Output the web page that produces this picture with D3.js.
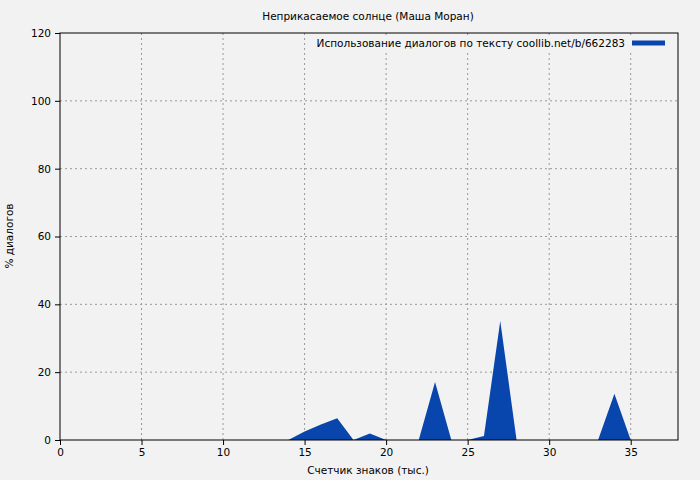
<!DOCTYPE html>
<html>
<head>
<meta charset="utf-8">
<script src="https://cdn.jsdelivr.net/npm/d3@7"></script>
<style>
  body { margin: 0; background: #f2f2f2; }
  text { font-family: "DejaVu Sans", sans-serif; font-size: 10.5px; fill: #000; }
  .grid line { stroke: #999; stroke-dasharray: 2,3; stroke-width: 1; }
</style>
</head>
<body>
<div id="chart"></div>
<script>
// data
var title = 'Неприкасаемое солнце (Маша Моран)';
var seriesName = 'Использование диалогов по тексту coollib.net/b/662283';
var xLabel = 'Счетчик знаков (тыс.)';
var yLabel = '% диалогов';
var xValues = [0, 1, 2, 3, 4, 5, 6, 7, 8, 9, 10, 11, 12, 13, 14, 15, 16, 17, 18, 19, 20, 21, 22, 23, 24, 25, 26, 27, 28, 29, 30, 31, 32, 33, 34, 35];
var dialogPct = [0, 0, 0, 0, 0, 0, 0, 0, 0, 0, 0, 0, 0, 0, 0, 2.5, 4.6, 6.4, 0, 1.9, 0, 0, 0, 17.1, 0, 0, 1.2, 35.1, 0, 0, 0, 0, 0, 0, 13.6, 0];
var xTicks = [0, 5, 10, 15, 20, 25, 30, 35];
var yTicks = [0, 20, 40, 60, 80, 100, 120];

var width = 700, height = 480;
var margin = { top: 33, right: 22, bottom: 40, left: 60 };

var svg = d3.select('#chart')
    .append('svg')
    .attr('width', width)
    .attr('height', height);

svg.append('rect')
    .attr('width', width)
    .attr('height', height)
    .style('fill', '#f2f2f2');

var x = d3.scaleLinear().domain([0, 37.9]).range([margin.left, width - margin.right]);
var y = d3.scaleLinear().domain([0, 120]).range([height - margin.bottom, margin.top]);

// grid
var grid = svg.append('g').attr('class', 'grid');
grid.selectAll('.gx')
    .data(xTicks.slice(1))
    .enter().append('line')
    .attr('x1', function(d) { return x(d); })
    .attr('x2', function(d) { return x(d); })
    .attr('y1', y(0))
    .attr('y2', y(120));
grid.selectAll('.gy')
    .data(yTicks.slice(1, -1))
    .enter().append('line')
    .attr('x1', x.range()[0])
    .attr('x2', x.range()[1])
    .attr('y1', function(d) { return y(d); })
    .attr('y2', function(d) { return y(d); });

// area
var data = xValues.map(function(d, i) { return { x: d, v: dialogPct[i] }; });
var area = d3.area()
    .x(function(d) { return x(d.x); })
    .y0(y(0))
    .y1(function(d) { return y(d.v); });

svg.append('path')
    .datum(data)
    .attr('d', area)
    .style('fill', '#0846ad')
    .style('stroke', 'none');

// frame
svg.append('rect')
    .attr('x', x.range()[0])
    .attr('y', y(120))
    .attr('width', x.range()[1] - x.range()[0])
    .attr('height', y(0) - y(120))
    .style('fill', 'none')
    .style('stroke', '#000')
    .style('stroke-width', 1);

// axes
svg.append('g')
    .attr('transform', 'translate(0,' + y(0) + ')')
    .call(d3.axisBottom(x).tickValues(xTicks).tickSize(5).tickPadding(4))
    .call(function(g) { g.select('.domain').remove(); });

svg.append('g')
    .attr('transform', 'translate(' + x(0) + ',0)')
    .call(d3.axisLeft(y).tickValues(yTicks).tickSize(5).tickPadding(4))
    .call(function(g) { g.select('.domain').remove(); });

svg.selectAll('.tick text').style('font-size', '10.5px').style('font-family', '"DejaVu Sans", sans-serif');

// legend
var legend = svg.append('g');
legend.append('rect')
    .attr('x', 306)
    .attr('y', 35)
    .attr('width', 366)
    .attr('height', 16)
    .style('fill', '#f2f2f2');
legend.append('text')
    .attr('x', 625)
    .attr('y', 43)
    .attr('dy', '0.35em')
    .style('text-anchor', 'end')
    .text(seriesName);
legend.append('line')
    .attr('x1', 632)
    .attr('x2', 665)
    .attr('y1', 43)
    .attr('y2', 43)
    .style('stroke', '#0846ad')
    .style('stroke-width', 5);

// titles
svg.append('text')
    .attr('x', 368)
    .attr('y', 16)
    .attr('dy', '0.35em')
    .style('text-anchor', 'middle')
    .text(title);

svg.append('text')
    .attr('x', 368)
    .attr('y', 470)
    .attr('dy', '0.35em')
    .style('text-anchor', 'middle')
    .text(xLabel);

svg.append('text')
    .attr('transform', 'translate(9,236) rotate(-90)')
    .attr('dy', '0.35em')
    .style('text-anchor', 'middle')
    .text(yLabel);
</script>
</body>
</html>
